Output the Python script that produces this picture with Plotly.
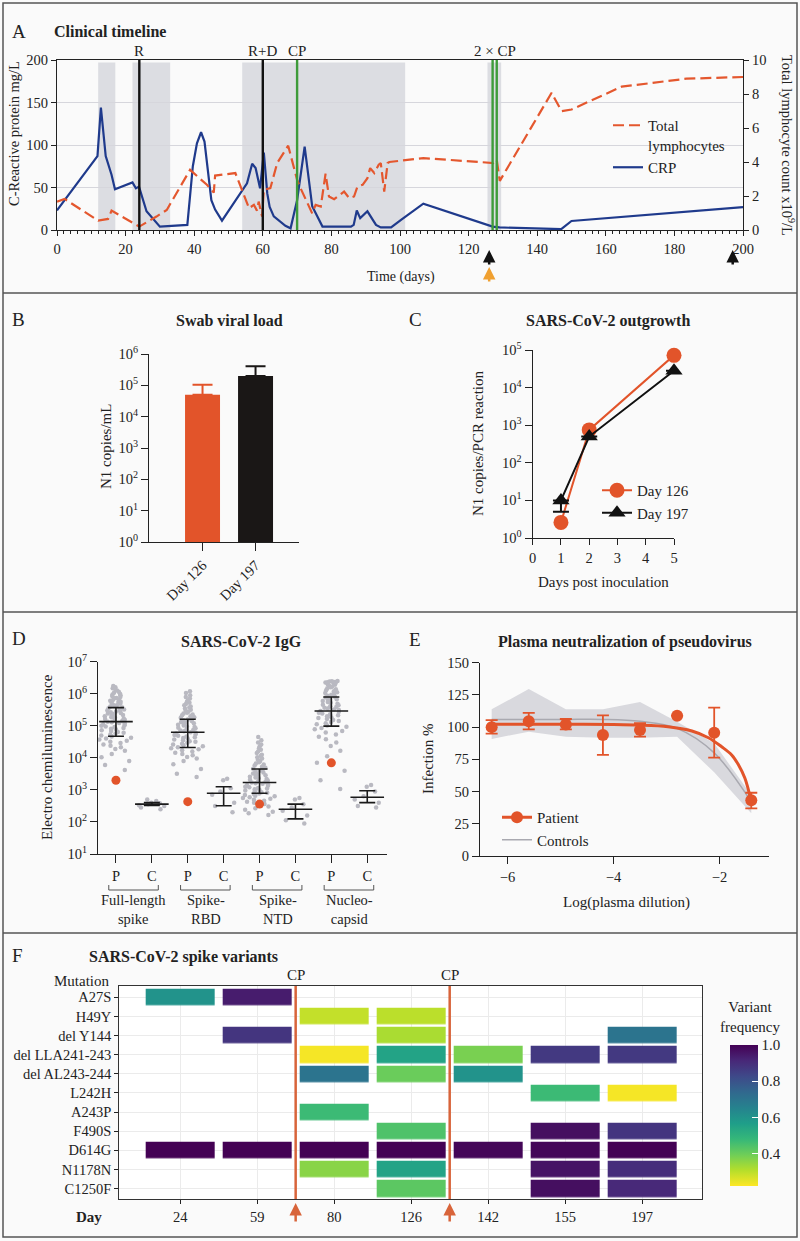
import plotly.graph_objects as go

W, H = 800, 1241
FONT = "Liberation Serif"
INK = "#222222"
ORANGE = "#E2542A"
NAVY = "#1F3A8C"
GREEN = "#3E9B3A"
CPRED = "#D8643A"
GRAYPT = "#b9b9c1"

def fx(p):
    return p / W

def fy(p):
    return 1 - p / H

# ---------------- Panel A : clinical timeline ----------------
crp_day = [0, 11.8, 12.8, 14.2, 15.9, 16.9, 22, 23, 23.9, 26.1, 30, 37.4, 38, 39.6, 40.8, 42, 43, 45, 46.1, 48.1,
           55, 55.4, 56.9, 57.9, 59.2, 60.3, 61.3, 62, 63.2, 66.6, 68.1, 70, 72.2, 73.4, 74.4, 77.4, 85.7, 86.5,
           87.4, 88.4, 90.5, 93, 94.4, 97.4, 100.3, 106.8, 127, 129, 147, 150, 200]
crp_val = [23, 87, 144, 87, 65, 48, 56, 49, 51, 22, 4, 6, 6, 75, 102, 115, 104, 35, 24, 11,
           53, 55, 78, 73, 49, 91, 43, 27, 16, 5, 2, 35, 98, 59, 28, 4, 4, 6,
           23, 14, 22, 6, 3, 3, 12, 31, 4, 3, 1, 10.6, 27]
lym_day = [0, 2.2, 12, 14.9, 15.9, 17.3, 22.2, 24, 29, 32, 38.8, 43.7, 45.7, 46.1, 52, 56, 57.4, 58.3, 58.8, 59.8,
           60.3, 62.2, 64.2, 67.4, 70, 71, 74.4, 75.4, 76.9, 78.3, 79.3, 80.8, 83.7, 85.2, 86.6, 87.6, 89.1, 90.5,
           91.3, 92.5, 93.8, 94.4, 95.4, 96.4, 96.9, 100.3, 106.8, 127.2, 128.2, 129.1, 144.2, 147.1, 150, 164.6,
           183.5, 200]
lym_val = [1.67, 1.83, 0.55, 0.65, 1.14, 0.98, 0.39, 0.2, 0.79, 1.18, 3.54, 2.66, 2.2, 3.2, 3.35, 1.28, 1.48, 1.14,
           1.67, 0.79, 2.36, 2.46, 3.94, 4.96, 2.95, 2.46, 0.98, 1.48, 1.38, 3.31, 1.97, 1.81, 2.26, 1.87, 1.97,
           2.56, 2.66, 3.05, 3.64, 3.35, 3.84, 3.94, 2.26, 3.94, 4.0, 4.07, 4.23, 3.94, 4.13, 2.89, 8.07, 6.99,
           7.09, 8.43, 8.9, 9.0]
shade_start = [12, 22, 54, 125.5]
shade_end = [17, 33, 101.5, 129.5]
event_day = [24, 60, 70, 127, 128.2]
event_color = ["#111111", "#111111", GREEN, GREEN, GREEN]
event_label = ["R", "R+D", "CP", "2 × CP"]
event_label_day = [24, 60, 70, 127.6]
black_arrow_day = [126, 197]
orange_arrow_day = [126]

# ---------------- Panel B : swab viral load ----------------
b_cats = ["Day 126", "Day 197"]
b_load = [5.0e4, 2.0e5]
b_upper = [1.05e5, 4.1e5]
b_colors = [ORANGE, "#1A1716"]

# ---------------- Panel C : outgrowth ----------------
c_days = [1, 2, 5]
c_d126 = [2.6, 750, 7.2e4]
c_d197 = [10, 500, 2.8e4]
c_d197_lower = [5, None, None]

# ---------------- Panel D : IgG ----------------
d_ticks = ["P", "C", "P", "C", "P", "C", "P", "C"]
d_pos = [1, 2, 3, 4, 5, 6, 7, 8]
d_groups = ["Full-length<br>spike", "Spike-<br>RBD", "Spike-<br>NTD", "Nucleo-<br>capsid"]
fl_p_log = [6.24, 6.2, 6.17, 6.12, 6.1, 6.06, 6.03, 6.0, 5.98, 5.95, 5.93, 5.9, 5.87, 5.86, 5.82, 5.8, 5.78, 5.75,
            5.74, 5.71, 5.69, 5.66, 5.64, 5.62, 5.6, 5.57, 5.55, 5.53, 5.51, 5.48, 5.47, 5.45, 5.42, 5.4, 5.38,
            5.36, 5.34, 5.31, 5.3, 5.27, 5.25, 5.23, 5.21, 5.19, 5.17, 5.15, 5.13, 5.11, 5.09, 5.07, 5.05, 5.02,
            5.0, 4.98, 4.96, 4.93, 4.91, 4.89, 4.86, 4.84, 4.81, 4.78, 4.76, 4.73, 4.7, 4.67, 4.63, 4.6, 4.57,
            4.53, 4.5, 4.46, 4.42, 4.38, 4.33, 4.28, 4.22, 4.12, 4.02, 3.9, 3.78, 3.62]
fl_c_log = [2.7, 2.65, 2.6, 2.58, 2.55, 2.52, 2.5, 2.45, 2.4]
rbd_p_log = [6.08, 6.02, 5.95, 5.9, 5.85, 5.8, 5.76, 5.72, 5.68, 5.64, 5.6, 5.57, 5.54, 5.5, 5.47, 5.44, 5.41,
             5.38, 5.35, 5.33, 5.3, 5.27, 5.25, 5.22, 5.2, 5.17, 5.15, 5.12, 5.1, 5.08, 5.05, 5.03, 5.01, 4.98,
             4.96, 4.94, 4.92, 4.89, 4.87, 4.85, 4.83, 4.8, 4.78, 4.76, 4.74, 4.71, 4.69, 4.67, 4.64, 4.62, 4.6,
             4.57, 4.55, 4.52, 4.5, 4.47, 4.44, 4.42, 4.39, 4.36, 4.33, 4.3, 4.27, 4.24, 4.2, 4.16, 4.12, 4.08,
             4.03, 3.98, 3.9, 3.8, 3.65, 3.5, 3.4]
rbd_c_log = [3.35, 3.3, 3.05, 2.95, 2.85, 2.6, 2.5, 2.3]
ntd_p_log = [4.65, 4.55, 4.48, 4.42, 4.36, 4.3, 4.25, 4.2, 4.15, 4.1, 4.06, 4.02, 3.98, 3.94, 3.9, 3.86, 3.82,
             3.79, 3.76, 3.72, 3.69, 3.66, 3.63, 3.6, 3.57, 3.54, 3.51, 3.49, 3.46, 3.44, 3.41, 3.39, 3.36, 3.34,
             3.32, 3.29, 3.27, 3.25, 3.23, 3.21, 3.19, 3.17, 3.15, 3.13, 3.1, 3.08, 3.06, 3.04, 3.02, 3.0, 2.98,
             2.96, 2.93, 2.91, 2.89, 2.87, 2.84, 2.82, 2.8, 2.77, 2.75, 2.72, 2.69, 2.66, 2.63, 2.6, 2.56, 2.52,
             2.48, 2.43, 2.38, 2.32, 2.27, 2.22]
ntd_c_log = [2.75, 2.7, 2.55, 2.45, 2.35, 2.2, 2.05, 1.95]
nc_p_log = [6.4, 6.39, 6.38, 6.37, 6.36, 6.35, 6.34, 6.32, 6.3, 6.28, 6.25, 6.22, 6.2, 6.17, 6.14, 6.11, 6.08,
            6.05, 6.02, 6.0, 5.97, 5.94, 5.91, 5.88, 5.85, 5.83, 5.8, 5.77, 5.74, 5.72, 5.69, 5.66, 5.64, 5.61,
            5.59, 5.56, 5.54, 5.51, 5.49, 5.46, 5.44, 5.41, 5.38, 5.36, 5.33, 5.3, 5.27, 5.24, 5.21, 5.18, 5.15,
            5.12, 5.08, 5.05, 5.01, 4.97, 4.93, 4.89, 4.84, 4.79, 4.73, 4.66, 4.58, 4.48, 4.37, 4.22, 4.05, 3.85,
            3.6, 3.3, 3.03]
nc_c_log = [3.15, 3.1, 2.95, 2.8, 2.7, 2.6, 2.5, 2.45]
d_clouds = [fl_p_log, fl_c_log, rbd_p_log, rbd_c_log, ntd_p_log, ntd_c_log, nc_p_log, nc_c_log]
d_center = [1.35e5, 360, 6.3e4, 790, 1.7e3, 250, 2.9e5, 590]
d_upper = [3.7e5, 400, 1.6e5, 1.26e3, 4.5e3, 360, 7.9e5, 940]
d_lower = [4.7e4, 330, 2.1e4, 320, 790, 125, 9.8e4, 400]
d_patient_pos = [1, 3, 5, 7]
d_patient = [2.0e3, 430, 360, 7.0e3]

# ---------------- Panel E : neutralization ----------------
dil = [-6.3, -5.6, -4.9, -4.2, -3.5, -2.8, -2.1, -1.4]
pt_inf = [100, 104.6, 102.1, 93.9, 97.8, 108.9, 95.7, 43.2]
pt_hi = [105.4, 111, 106.3, 109.1, 103, None, 115.1, 49.1]
pt_lo = [95, 98.3, 98.3, 78.4, 92.6, None, 76.3, 37]
fit_x = [-6.3, -5.0, -4.0, -3.6, -2.97, -2.52, -2.21, -1.96, -1.77, -1.64, -1.52, -1.41]
fit_y = [102.2, 102.2, 102.1, 101.6, 100.3, 97, 91.8, 84.8, 78.4, 70.6, 60.3, 44]
ctrl_mean = [106, 106, 106, 106, 104.5, 99, 80, 42]
ctrl_hi = [113.8, 129.6, 113.8, 113.8, 119.6, 104.2, 87.4, 47.3]
ctrl_lo = [90.8, 96.5, 92.6, 91.8, 91.8, 92.6, 64.9, 33.1]

# ---------------- Panel F : spike variants ----------------
f_days = [24, 59, 80, 126, 142, 155, 197]
f_mut = ["A27S", "H49Y", "del Y144", "del LLA241-243", "del AL243-244", "L242H", "A243P", "F490S", "D614G",
         "N1178N", "C1250F"]
f_A27S = [0.60, 0.94, None, None, None, None, None]
f_H49Y = [None, None, 0.29, 0.30, None, None, None]
f_delY144 = [None, 0.88, None, 0.32, None, None, 0.70]
f_delLLA = [None, None, 0.23, 0.55, 0.38, 0.87, 0.87]
f_delAL = [None, None, 0.70, 0.40, 0.60, None, None]
f_L242H = [None, None, None, None, None, 0.47, 0.23]
f_A243P = [None, None, 0.47, None, None, None, None]
f_F490S = [None, None, None, 0.44, None, 0.97, 0.88]
f_D614G = [1.0, 1.0, 1.0, 1.0, 0.99, 0.99, 1.0]
f_N1178N = [None, None, 0.36, 0.55, None, 0.96, 0.90]
f_C1250F = [None, None, None, 0.42, None, 0.97, 0.91]
f_freq = [f_A27S, f_H49Y, f_delY144, f_delLLA, f_delAL, f_L242H, f_A243P, f_F490S, f_D614G, f_N1178N, f_C1250F]
f_cp_after = [59, 126]

fig = go.Figure()

# ---- A traces
fig.add_trace(go.Scatter(x=lym_day, y=lym_val, xaxis="x", yaxis="y2", mode="lines", name="Total<br>lymphocytes",
                         line=dict(color="#E4572E", width=2.2, dash="11px,5px"), legend="legend"))
fig.add_trace(go.Scatter(x=crp_day, y=crp_val, xaxis="x", yaxis="y", mode="lines", name="CRP",
                         line=dict(color=NAVY, width=2.2), legend="legend"))

# ---- B traces
for i in range(len(b_cats)):
    fig.add_trace(go.Bar(x=[b_cats[i]], y=[b_load[i]], xaxis="x3", yaxis="y3", width=0.66,
                         marker=dict(color=b_colors[i], line=dict(width=0)), showlegend=False,
                         error_y=dict(type="data", symmetric=False, array=[b_upper[i] - b_load[i]],
                                      arrayminus=[0], color=b_colors[i], thickness=2, width=10)))

# ---- C traces
fig.add_trace(go.Scatter(x=c_days, y=c_d126, xaxis="x4", yaxis="y4", mode="lines+markers", name="Day 126",
                         marker=dict(symbol="circle", size=15, color=ORANGE), line=dict(color=ORANGE, width=2),
                         cliponaxis=False, legend="legend2"))
fig.add_trace(go.Scatter(x=c_days, y=c_d197, xaxis="x4", yaxis="y4", mode="lines+markers", name="Day 197",
                         marker=dict(symbol="triangle-up", size=15, color="#111111"),
                         line=dict(color="#111111", width=2), cliponaxis=False, legend="legend2",
                         error_y=dict(type="data", symmetric=False,
                                      array=[None for _ in c_d197],
                                      arrayminus=[(v - l) if l is not None else None for v, l in zip(c_d197, c_d197_lower)],
                                      color="#111111", thickness=2, width=8)))

# ---- D traces
for pos, cloud in zip(d_pos, d_clouds):
    fig.add_trace(go.Box(x=[pos] * len(cloud), y=[10 ** v for v in cloud], xaxis="x5", yaxis="y5",
                         boxpoints="all", jitter=1, pointpos=0, width=0.95, fillcolor="rgba(0,0,0,0)",
                         line=dict(width=0, color="rgba(0,0,0,0)"), marker=dict(size=4.5, color=GRAYPT),
                         showlegend=False, hoverinfo="y"))
fig.add_trace(go.Scatter(x=d_pos, y=d_center, xaxis="x5", yaxis="y5", mode="markers", showlegend=False,
                         marker=dict(symbol="line-ew", size=24, line=dict(width=1.6, color="#1a1a1a")),
                         error_y=dict(type="data", symmetric=False,
                                      array=[u - c for u, c in zip(d_upper, d_center)],
                                      arrayminus=[c - l for c, l in zip(d_center, d_lower)],
                                      color="#1a1a1a", thickness=1.6, width=8)))
fig.add_trace(go.Scatter(x=d_patient_pos, y=d_patient, xaxis="x5", yaxis="y5", mode="markers", showlegend=False,
                         marker=dict(size=9, color=ORANGE)))

# ---- E traces
fig.add_trace(go.Scatter(x=dil + dil[::-1], y=ctrl_hi + ctrl_lo[::-1], xaxis="x6", yaxis="y6", mode="lines",
                         fill="toself", fillcolor="#d9d9de", line=dict(width=0), showlegend=False, hoverinfo="skip"))
fig.add_trace(go.Scatter(x=dil, y=ctrl_mean, xaxis="x6", yaxis="y6", mode="lines", name="Controls",
                         line=dict(color="#a9a9b0", width=1.5, shape="spline"), legend="legend3"))
fig.add_trace(go.Scatter(x=fit_x, y=fit_y, xaxis="x6", yaxis="y6", mode="lines", showlegend=False,
                         line=dict(color=ORANGE, width=3, shape="spline")))
fig.add_trace(go.Scatter(x=dil, y=pt_inf, xaxis="x6", yaxis="y6", mode="markers", showlegend=False,
                         marker=dict(size=12, color=ORANGE), cliponaxis=False,
                         error_y=dict(type="data", symmetric=False,
                                      array=[(h - v) if h is not None else None for h, v in zip(pt_hi, pt_inf)],
                                      arrayminus=[(v - l) if l is not None else None for v, l in zip(pt_inf, pt_lo)],
                                      color=ORANGE, thickness=1.8, width=6)))
fig.add_trace(go.Scatter(x=[None], y=[None], xaxis="x6", yaxis="y6", mode="lines+markers", name="Patient",
                         marker=dict(size=12, color=ORANGE), line=dict(color=ORANGE, width=3),
                         legend="legend3", legendrank=1))

# ---- F heatmap
fig.add_trace(go.Heatmap(z=f_freq, x=list(range(len(f_days))), y=list(range(len(f_mut))), xaxis="x7", yaxis="y7",
                         colorscale="Viridis", reversescale=True, zmin=0.22, zmax=1.0, xgap=8, ygap=2.5,
                         hoverongaps=False,
                         colorbar=dict(x=fx(730), xanchor="left", xpad=0, y=fy(1186), yanchor="bottom", ypad=0,
                                       len=141, lenmode="pixels", thickness=28, thicknessmode="pixels",
                                       outlinewidth=0, tickvals=[0.4, 0.6, 0.8, 1.0],
                                       ticktext=["0.4", "0.6", "0.8", "1.0"], ticks="inside", ticklen=6,
                                       tickcolor="white", tickfont=dict(family=FONT, size=15, color=INK))))

# ---------------- shapes ----------------
shapes = []
shapes.append(dict(type="rect", xref="paper", yref="paper", x0=fx(3), x1=fx(797), y0=fy(1237), y1=fy(3),
                   line=dict(color="#555555", width=1.5)))
for yy in [293, 612, 933]:
    shapes.append(dict(type="line", xref="paper", yref="paper", x0=fx(3), x1=fx(797), y0=fy(yy), y1=fy(yy),
                       line=dict(color="#555555", width=1.5)))
for s, e in zip(shade_start, shade_end):
    shapes.append(dict(type="rect", xref="x", yref="y", x0=s, x1=e, y0=0, y1=197, fillcolor="#dcdde2",
                       line=dict(width=0), layer="below"))
for d, c in zip(event_day, event_color):
    shapes.append(dict(type="line", xref="x", yref="y", x0=d, x1=d, y0=0, y1=200, line=dict(color=c, width=2.4)))
for k in range(4):
    p, c = d_pos[2 * k], d_pos[2 * k + 1]
    x0, x1 = p - 0.2, c + 0.18
    shapes.append(dict(type="path", xref="x5", yref="paper",
                       path=f"M {x0},{fy(885)} L {x0},{fy(890)} L {x1},{fy(890)} L {x1},{fy(885)}",
                       line=dict(color="#555555", width=1)))
shapes.append(dict(type="rect", xref="paper", yref="paper", x0=fx(119.3), x1=fx(702.3), y0=fy(1199), y1=fy(986),
                   fillcolor="white", line=dict(width=0), layer="below"))
for d in f_cp_after:
    xi = f_days.index(d) + 0.5
    shapes.append(dict(type="line", xref="x7", yref="paper", x0=xi, x1=xi, y0=fy(1199), y1=fy(986),
                       line=dict(color=CPRED, width=2.5)))

# ---------------- annotations ----------------
def T(text, x, y, size=14, bold=False, xanchor="center", yanchor="middle", angle=0, xref="paper", yref="paper",
      color=INK):
    if bold:
        text = f"<b>{text}</b>"
    return dict(text=text, x=x, y=y, xref=xref, yref=yref, showarrow=False, xanchor=xanchor, yanchor=yanchor,
                textangle=angle, font=dict(family=FONT, size=size, color=color))

TS = 16
ann = []
ann.append(T("A", fx(10), fy(32), size=19, xanchor="left"))
ann.append(T("Clinical timeline", fx(52), fy(32), size=TS, bold=True, xanchor="left"))
for lab, d in zip(event_label, event_label_day):
    ann.append(T(lab, d, fy(51), size=15, xref="x"))
ann.append(T("C-Reactive protein mg/L", fx(14), fy(134), size=14.5, angle=-90))
ann.append(T("Total lymphocyte count x10<sup>9</sup>/L", fx(788), fy(145), size=14.5, angle=90))
ann.append(T("Time (days)", fx(401), fy(277)))
for d in black_arrow_day:
    ann.append(dict(text="", x=d, y=fy(250), xref="x", yref="paper", showarrow=True, ax=0, ay=16,
                    arrowhead=2, arrowsize=1, arrowwidth=2.5, arrowcolor="#111111", standoff=0))
for d in orange_arrow_day:
    ann.append(dict(text="", x=d, y=fy(267), xref="x", yref="paper", showarrow=True, ax=0, ay=16,
                    arrowhead=2, arrowsize=1, arrowwidth=2.5, arrowcolor="#F0A030", standoff=0))
ann.append(T("B", fx(10), fy(320), size=19, xanchor="left"))
ann.append(T("Swab viral load", fx(229), fy(321), size=TS, bold=True))
ann.append(T("N1 copies/mL", fx(106), fy(447), size=15, angle=-90))
ann.append(T("C", fx(407), fy(320), size=19, xanchor="left"))
ann.append(T("SARS-CoV-2 outgrowth", fx(608), fy(321), size=TS, bold=True))
ann.append(T("N1 copies/PCR reaction", fx(478), fy(444), size=15, angle=-90))
ann.append(T("Days post inoculation", fx(603), fy(582), size=15))
ann.append(T("D", fx(10), fy(639), size=19, xanchor="left"))
ann.append(T("SARS-CoV-2 IgG", fx(241), fy(642), size=TS, bold=True))
ann.append(T("Electro chemiluminescence", fx(47), fy(757), size=15, angle=-90))
for k, g in enumerate(d_groups):
    ann.append(T(g, (d_pos[2 * k] + d_pos[2 * k + 1]) / 2, fy(909), size=14.5, xref="x5"))
ann.append(T("E", fx(407), fy(640), size=19, xanchor="left"))
ann.append(T("Plasma neutralization of pseudovirus", fx(625), fy(642), size=TS, bold=True))
ann.append(T("Infection %", fx(428), fy(759), size=15, angle=-90))
ann.append(T("Log(plasma dilution)", fx(626), fy(902), size=15))
ann.append(T("F", fx(10), fy(955), size=19, xanchor="left"))
ann.append(T("SARS-CoV-2 spike variants", fx(87), fy(957), size=TS, bold=True, xanchor="left"))
ann.append(T("Mutation", fx(111), fy(981), size=15, xanchor="right"))
ann.append(T("Day", fx(89), fy(1217), size=15, bold=True))
ann.append(T("Variant<br>frequency", fx(718), fy(1017), size=15, xanchor="left"))
for d in f_cp_after:
    xi = f_days.index(d) + 0.5
    ann.append(T("CP", xi, fy(975), size=15, xref="x7"))
    ann.append(dict(text="", x=xi, y=fy(1203), xref="x7", yref="paper", showarrow=True, ax=0, ay=20,
                    arrowhead=2, arrowsize=1, arrowwidth=2.5, arrowcolor=CPRED, standoff=0))

# ---------------- axes ----------------
def ax(**kw):
    d = dict(showline=True, linecolor=INK, linewidth=1.3, ticks="outside", tickcolor=INK, ticklen=5, tickwidth=1.2,
             showgrid=False, zeroline=False, tickfont=dict(family=FONT, size=14.5, color=INK), fixedrange=True,
             automargin=False)
    d.update(kw)
    return d

def logticks(lo, hi):
    return dict(tickvals=[10 ** k for k in range(lo, hi + 1)], ticktext=[f"10<sup>{k}</sup>" for k in range(lo, hi + 1)])

legend_common = dict(bgcolor="rgba(0,0,0,0)", font=dict(family=FONT, size=15, color=INK), xanchor="left",
                     yanchor="top", tracegroupgap=0, itemwidth=30)

fig.update_layout(
    width=W, height=H, margin=dict(l=0, r=0, t=0, b=0, pad=0, autoexpand=False),
    paper_bgcolor="#fafafa", plot_bgcolor="rgba(0,0,0,0)",
    font=dict(family=FONT, size=14, color=INK), barmode="overlay", boxmode="overlay",
    xaxis=ax(domain=[fx(57), fx(743)], anchor="y", range=[0, 200], dtick=20, mirror=True,
             minor=dict(dtick=2, ticks="outside", ticklen=3, tickcolor=INK)),
    yaxis=ax(domain=[fy(230), fy(60)], anchor="x", range=[0, 200], dtick=50, showgrid=True, gridcolor="#d6d6dc"),
    yaxis2=ax(overlaying="y", side="right", anchor="x", range=[0, 10], dtick=2),
    xaxis3=ax(domain=[fx(149), fx(299)], anchor="y3", type="category", range=[-1.01, 1.82], tickangle=-45,
              ticklen=8),
    yaxis3=ax(domain=[fy(542), fy(354)], anchor="x3", type="log", range=[0, 6], ticklen=7, **logticks(0, 6)),
    xaxis4=ax(domain=[fx(532.7), fx(674)], anchor="y4", range=[0, 5], dtick=1, ticklen=6),
    yaxis4=ax(domain=[fy(538), fy(350)], anchor="x4", type="log", range=[0, 5], ticklen=7, **logticks(0, 5)),
    xaxis5=ax(domain=[fx(98), fx(387)], anchor="y5", range=[0.5, 8.55], tickvals=d_pos, ticktext=d_ticks,
              ticklen=8),
    yaxis5=ax(domain=[fy(854), fy(661.7)], anchor="x5", type="log", range=[1, 7], ticklen=7, **logticks(1, 7)),
    xaxis6=ax(domain=[fx(480), fx(769.3)], anchor="y6", range=[-6.52, -1.06], tickvals=[-6, -4, -2], ticklen=7),
    yaxis6=ax(domain=[fy(856), fy(662.7)], anchor="x6", range=[0, 150], dtick=25, ticklen=7),
    xaxis7=ax(domain=[fx(119.3), fx(702.3)], anchor="y7", range=[-0.79, 6.78], tickvals=list(range(len(f_days))),
              ticktext=[str(d) for d in f_days], showgrid=True, gridcolor="#ebebeb", mirror=True,
              linecolor="#333333", ticklen=4),
    yaxis7=ax(domain=[fy(1199), fy(986)], anchor="x7", range=[10.54, -0.59], tickvals=list(range(len(f_mut))),
              ticktext=f_mut, showgrid=True, gridcolor="#ebebeb", mirror=True, linecolor="#333333", ticklen=4),
    legend=dict(x=fx(608), y=fy(109), valign="top", **legend_common),
    legend2=dict(x=fx(597), y=fy(474), **legend_common),
    legend3=dict(x=fx(497), y=fy(801), **legend_common),
    shapes=shapes, annotations=ann,
)

PAGE_FIX = (
    "var s=document.createElement('style');"
    "s.innerHTML='html,body{margin:0 !important;padding:0 !important;overflow:hidden !important;"
    "width:800px;height:1241px;background:#fafafa;}"
    ".plotly-graph-div{position:fixed !important;left:0;top:0;}';"
    "document.head.appendChild(s);"
)
fig.write_html("out.html", config={"displayModeBar": False}, post_script=PAGE_FIX)
